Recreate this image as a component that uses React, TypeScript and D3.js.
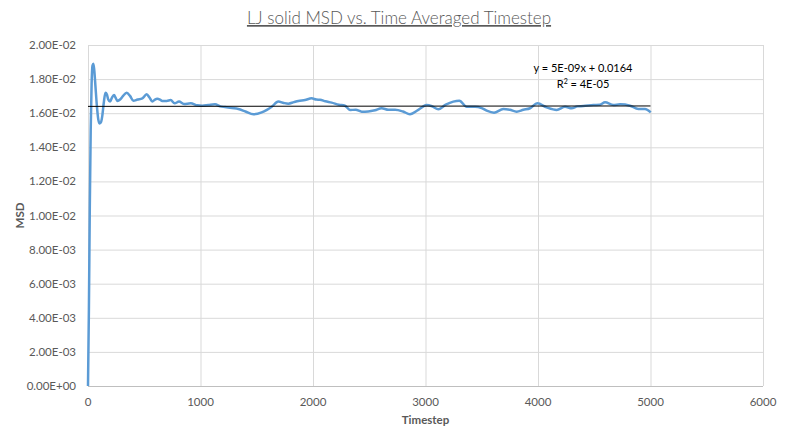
import React, { useEffect, useRef } from "react";
import * as d3 from "d3";

// Values
const timesteps = [
  0, 8, 16, 24, 32, 40, 48, 56, 66, 78, 90, 102, 114, 126, 140, 155, 168, 180,
  196, 212, 231, 246, 261, 285, 310, 344, 375, 403, 440, 483, 521, 548, 572,
  595, 616, 640, 660, 700, 735, 770, 809, 853, 913, 972, 1016, 1070, 1129,
  1175, 1218, 1280, 1336, 1400, 1470, 1544, 1590, 1633, 1692, 1740, 1781,
  1830, 1870, 1929, 1988, 2030, 2062, 2110, 2166, 2230, 2284, 2329, 2380,
  2433, 2490, 2551, 2610, 2670, 2729, 2800, 2862, 2936, 3010, 3060, 3114,
  3180, 3247, 3301, 3366, 3440, 3500, 3544, 3609, 3692, 3750, 3810, 3870,
  3929, 3994, 4077, 4166, 4240, 4299, 4350, 4403, 4492, 4550, 4596, 4670,
  4729, 4818, 4892, 4951, 5002,
];

const msd = [
  0, 0.0045, 0.0105, 0.015, 0.0177, 0.0188, 0.0189, 0.0185, 0.0176, 0.0165,
  0.0157, 0.0154, 0.01545, 0.0158, 0.0166, 0.0172, 0.0171, 0.0168, 0.01668,
  0.0169, 0.01707, 0.0169, 0.01672, 0.0168, 0.017, 0.0172, 0.017, 0.01673,
  0.0168, 0.01687, 0.01711, 0.0169, 0.01668, 0.0168, 0.01685, 0.0168,
  0.01672, 0.01672, 0.01677, 0.01658, 0.01668, 0.01654, 0.01658, 0.01646,
  0.01644, 0.01648, 0.01652, 0.0164, 0.01636, 0.0163, 0.01625, 0.0161,
  0.01594, 0.01605, 0.0162, 0.01638, 0.01668, 0.0166, 0.01656, 0.01665,
  0.01672, 0.01677, 0.01687, 0.0168, 0.01679, 0.0167, 0.01662, 0.0165,
  0.01644, 0.01619, 0.0162, 0.01609, 0.0161, 0.01617, 0.01629, 0.0162,
  0.0162, 0.0161, 0.01594, 0.01619, 0.01648, 0.0164, 0.01623, 0.0165,
  0.01668, 0.01673, 0.01638, 0.01638, 0.0163, 0.01615, 0.01603, 0.01625,
  0.0162, 0.01609, 0.0162, 0.01629, 0.01658, 0.01634, 0.01619, 0.01638,
  0.01629, 0.0164, 0.01642, 0.01648, 0.0165, 0.01664, 0.01648, 0.01652,
  0.01644, 0.01625, 0.01625, 0.01605,
];

const xTicks = [0, 1000, 2000, 3000, 4000, 5000, 6000];
const yTicks = [0, 0.002, 0.004, 0.006, 0.008, 0.01, 0.012, 0.014, 0.016, 0.018, 0.02];

const trendSlope = 5e-9;
const trendIntercept = 0.0164;
const trendRange = [0, 5000];

const W = 798;
const H = 436;
const FONT = "Lato, 'Open Sans', sans-serif";
const GREY = "#595959";

export default function App() {
  const svgRef = useRef<SVGSVGElement>(null);

  useEffect(() => {
    if (!svgRef.current) return;
    const svg = d3.select(svgRef.current);
    svg.selectAll("*").remove();

    const margin = { top: 45, right: 35, bottom: 50, left: 88 };
    const width = W - margin.left - margin.right;
    const height = H - margin.top - margin.bottom;

    const g = svg
      .append("g")
      .attr("transform", `translate(${margin.left},${margin.top})`);

    const x = d3.scaleLinear().domain([0, 6000]).range([0, width]);
    const y = d3.scaleLinear().domain([0, 0.02]).range([height, 0]);

    // horizontal grid
    g.append("g")
      .selectAll("line")
      .data(yTicks)
      .enter()
      .append("line")
      .attr("x1", 0)
      .attr("x2", width)
      .attr("y1", (d) => y(d) + 0.5)
      .attr("y2", (d) => y(d) + 0.5)
      .attr("stroke", (d) => (d === 0 ? "#bfbfbf" : "#d9d9d9"))
      .attr("stroke-width", 1);

    // vertical grid
    g.append("g")
      .selectAll("line")
      .data(xTicks)
      .enter()
      .append("line")
      .attr("x1", (d) => x(d) + 0.5)
      .attr("x2", (d) => x(d) + 0.5)
      .attr("y1", 0)
      .attr("y2", height)
      .attr("stroke", "#d9d9d9")
      .attr("stroke-width", 1);

    // y tick labels
    g.append("g")
      .selectAll("text")
      .data(yTicks)
      .enter()
      .append("text")
      .attr("x", -12)
      .attr("y", (d) => y(d))
      .attr("dy", "0.35em")
      .attr("text-anchor", "end")
      .attr("font-family", FONT)
      .attr("font-size", "11.5px")
      .attr("fill", GREY)
      .text((d) => d3.format(".2e")(d).replace(/e([+-])(\d)$/, "E$10$2").replace("e", "E"));

    // x tick labels
    g.append("g")
      .selectAll("text")
      .data(xTicks)
      .enter()
      .append("text")
      .attr("x", (d) => x(d))
      .attr("y", height + 16)
      .attr("dy", "0.35em")
      .attr("text-anchor", "middle")
      .attr("font-family", FONT)
      .attr("font-size", "11.5px")
      .attr("fill", GREY)
      .text((d) => String(d));

    // data line
    const points = timesteps.map((t, i) => ({ t, v: msd[i] }));
    const line = d3
      .line<{ t: number; v: number }>()
      .x((d) => x(d.t))
      .y((d) => y(d.v))
      .curve(d3.curveMonotoneX);

    g.append("path")
      .datum(points)
      .attr("fill", "none")
      .attr("stroke", "#5b9bd5")
      .attr("stroke-width", 2.5)
      .attr("stroke-linejoin", "round")
      .attr("d", line);

    // linear trendline
    g.append("line")
      .attr("x1", x(trendRange[0]))
      .attr("x2", x(trendRange[1]))
      .attr("y1", y(trendSlope * trendRange[0] + trendIntercept))
      .attr("y2", y(trendSlope * trendRange[1] + trendIntercept))
      .attr("stroke", "#000")
      .attr("stroke-width", 1);

    // trendline equation
    const eqX = x(4400);
    const eq = g
      .append("text")
      .attr("x", eqX)
      .attr("text-anchor", "middle")
      .attr("font-family", FONT)
      .attr("font-size", "11px")
      .attr("fill", "#000");
    eq.append("tspan").attr("x", eqX).attr("y", 27).text("y = 5E-09x + 0.0164");
    const r2 = eq.append("tspan").attr("x", eqX).attr("y", 43);
    r2.append("tspan").text("R");
    r2.append("tspan").attr("font-size", "7px").attr("dy", "-4").text("2");
    r2.append("tspan").attr("dy", "4").text(" = 4E-05");

    // title
    svg
      .append("text")
      .attr("x", W / 2)
      .attr("y", 24)
      .attr("text-anchor", "middle")
      .attr("font-family", FONT)
      .attr("font-size", "17px")
      .attr("font-weight", 300)
      .attr("fill", GREY)
      .attr("text-decoration", "underline")
      .text("LJ solid MSD vs. Time Averaged Timestep");

    // axis titles
    svg
      .append("text")
      .attr("x", margin.left + x(3000))
      .attr("y", 424)
      .attr("text-anchor", "middle")
      .attr("font-family", FONT)
      .attr("font-size", "11.5px")
      .attr("font-weight", "bold")
      .attr("fill", GREY)
      .text("Timestep");

    svg
      .append("text")
      .attr("transform", `translate(24,${margin.top + height / 2}) rotate(-90)`)
      .attr("text-anchor", "middle")
      .attr("font-family", FONT)
      .attr("font-size", "11.5px")
      .attr("font-weight", "bold")
      .attr("fill", GREY)
      .text("MSD");
  }, []);

  return (
    <div style={{ position: "absolute", left: 0, top: 0, background: "#fff" }}>
      <svg ref={svgRef} width={W} height={H} style={{ display: "block" }}></svg>
    </div>
  );
}
